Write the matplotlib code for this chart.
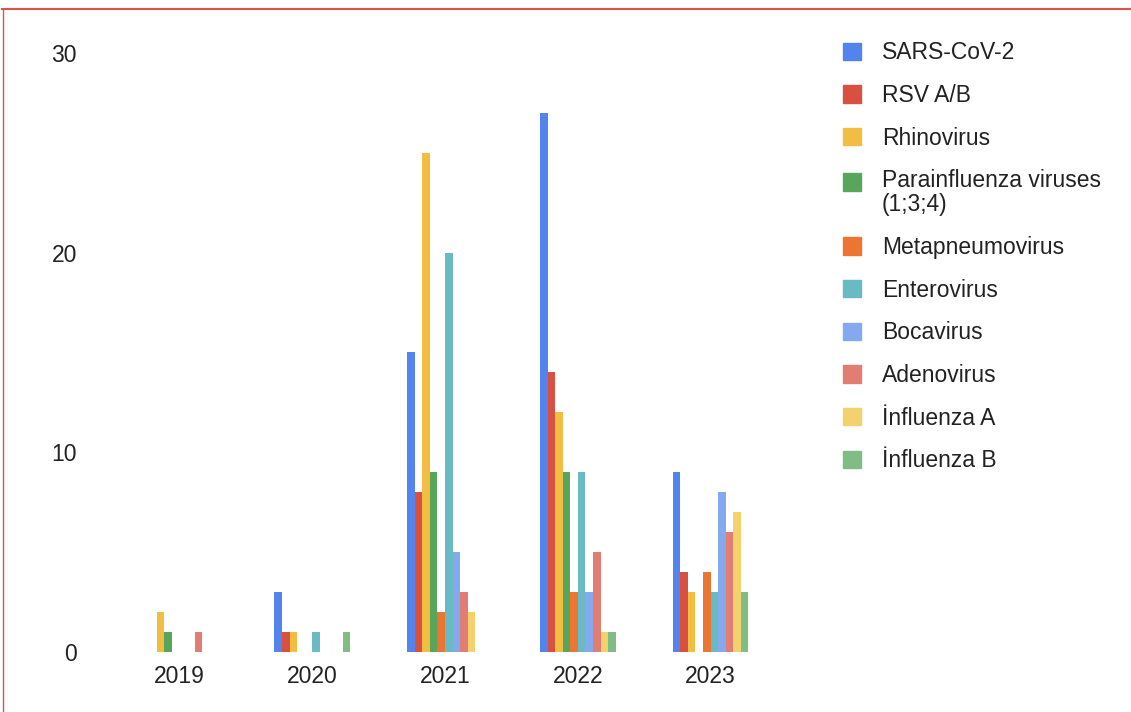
import matplotlib
matplotlib.use("Agg")
import matplotlib.pyplot as plt
import numpy as np
from matplotlib.lines import Line2D

years = ["2019", "2020", "2021", "2022", "2023"]
series_names = ["SARS-CoV-2", "RSV A/B", "Rhinovirus", "Parainfluenza viruses\n(1;3;4)",
                "Metapneumovirus", "Enterovirus", "Bocavirus", "Adenovirus",
                "İnfluenza A", "İnfluenza B"]
sars = [0, 3, 15, 27, 9]
rsv = [0, 1, 8, 14, 4]
rhino = [2, 1, 25, 12, 3]
para = [1, 0, 9, 9, 0]
meta = [0, 0, 2, 3, 4]
entero = [0, 1, 20, 9, 3]
boca = [0, 0, 5, 3, 8]
adeno = [1, 0, 3, 5, 6]
infa = [0, 0, 2, 1, 7]
infb = [0, 1, 0, 1, 3]
series_values = [sars, rsv, rhino, para, meta, entero, boca, adeno, infa, infb]
colors = ["#5383EC", "#D85140", "#F1BE42", "#58A55C", "#EB7532",
          "#68BAC3", "#84A9EF", "#E27D74", "#F3D26D", "#7FBD85"]

plt.rcParams['font.family'] = ['Liberation Sans', 'DejaVu Sans']
FS = 16.5

fig = plt.figure(figsize=(11.31, 7.12), dpi=100)
ax = fig.add_axes([0.100, 0.084, 0.587, 0.842])

n = len(series_values)
x = np.arange(len(years))
bw = 0.057
for i, (vals, c, name) in enumerate(zip(series_values, colors, series_names)):
    offs = (i - (n - 1) / 2) * bw
    ax.bar(x + offs, vals, width=bw, color=c, label=name, edgecolor='none')

ax.set_xlim(-0.5, len(years) - 0.5)
ax.set_ylim(0, 30)
ax.set_yticks([0, 10, 20, 30])
ax.set_xticks(x)
ax.set_xticklabels(years)
ax.tick_params(axis='both', length=0, labelsize=FS, colors='#222222')
ax.tick_params(axis='y', pad=26)
ax.tick_params(axis='x', pad=9)
for s in ax.spines.values():
    s.set_visible(False)

handles = [plt.Rectangle((0, 0), 1, 1, color=c) for c in colors]
leg = fig.legend(handles, series_names, loc='upper left', bbox_to_anchor=(0.7375, 0.955),
                 frameon=False, fontsize=FS, handlelength=0.78, handleheight=0.78,
                 handletextpad=0.9, labelspacing=0.86, borderaxespad=0)
for t in leg.get_texts():
    t.set_color('#222222')
    t.set_linespacing(1.05)
# align the handle of the two-line entry with its first line
h = leg.legend_handles[3]
h.set_y(h.get_y() + 8.5)

fig.add_artist(Line2D([0.002, 1.0], [1 - 8.5 / 712, 1 - 8.5 / 712], color='#D9534F', lw=1.5,
                      transform=fig.transFigure))
fig.add_artist(Line2D([3 / 1131, 3 / 1131], [1 - 8.5 / 712, 0], color='#D9534F', lw=1.0,
                      transform=fig.transFigure))

fig.savefig("out.png", dpi=100)
